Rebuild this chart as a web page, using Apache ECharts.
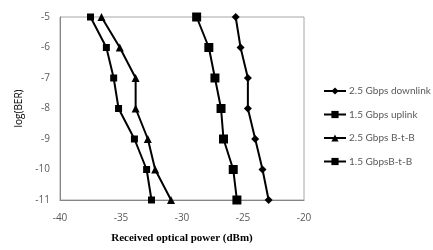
<!DOCTYPE html>
<html>
<head>
<meta charset="utf-8">
<script src="https://cdn.jsdelivr.net/npm/echarts@6/dist/echarts.min.js"></script>
<style>
  html, body { margin: 0; padding: 0; background: #fff; }
  #chart { width: 433px; height: 250px; }
</style>
</head>
<body>
<div id="chart"></div>
<script>
// log(BER) levels, shared by every curve
const berLevels = [-5, -6, -7, -8, -9, -10, -11]

// received optical power (dBm) per series
const downlink25 = [-25.6, -25.2, -24.6, -24.6, -24.0, -23.4, -22.9]
const uplink15 = [-28.8, -27.8, -27.3, -26.8, -26.6, -25.8, -25.5]
const btb25 = [-36.6, -35.1, -33.8, -33.8, -32.8, -32.2, -30.9]
const btb15 = [-37.5, -36.2, -35.6, -35.2, -33.9, -32.9, -32.5]

const seriesNames = ['2.5 Gbps downlink', '1.5 Gbps uplink', '2.5 Gbps B-t-B', '1.5 GbpsB-t-B']
const seriesSymbols = ['diamond', 'rect', 'triangle', 'rect']
const seriesSizes = [8, 9, 8, 7]
const seriesValues = [downlink25, uplink15, btb25, btb15]

const pairUp = (xs) => xs.map((x, i) => [x, berLevels[i]])

const chart = echarts.init(document.getElementById('chart'))

const option = {
  animation: false,
  grid: {
    left: 60,
    top: 17,
    right: 129,
    bottom: 50,
    show: true,
    borderColor: '#a6a6a6',
    borderWidth: 1,
  },
  legend: {
    orient: 'vertical',
    left: 318,
    top: 81,
    itemWidth: 22,
    itemHeight: 9,
    itemGap: 13.5,
    data: seriesNames,
    textStyle: { color: '#595959', fontSize: 10, fontFamily: 'Lato', padding: [0, 0, 0, -2] },
  },
  xAxis: {
    type: 'value',
    min: -40,
    max: -20,
    interval: 5,
    name: 'Received optical power (dBm)',
    nameLocation: 'middle',
    nameGap: 33,
    nameTextStyle: { color: '#000', fontSize: 11, fontWeight: 'bold', fontFamily: 'Liberation Serif' },
    axisLine: { lineStyle: { color: '#868686' } },
    axisTick: { show: false },
    splitLine: { show: false },
    axisLabel: { color: '#595959', fontSize: 10, margin: 13, fontFamily: 'Open Sans' },
  },
  yAxis: {
    type: 'value',
    min: -11,
    max: -5,
    interval: 1,
    name: 'log(BER)',
    nameLocation: 'middle',
    nameGap: 36,
    nameTextStyle: { color: '#000', fontSize: 10, fontFamily: 'Open Sans' },
    axisLine: { show: true, lineStyle: { color: '#868686' } },
    axisTick: { show: false },
    splitLine: { show: false },
    axisLabel: { color: '#595959', fontSize: 10, margin: 10, fontFamily: 'Open Sans' },
  },
  series: seriesValues.map((vals, i) => ({
    name: seriesNames[i],
    type: 'line',
    data: pairUp(vals),
    symbol: seriesSymbols[i],
    symbolSize: seriesSizes[i],
    showAllSymbol: true,
    lineStyle: { color: '#000', width: 2 },
    itemStyle: { color: '#000' },
  })),
}

chart.setOption(option)
</script>
</body>
</html>
